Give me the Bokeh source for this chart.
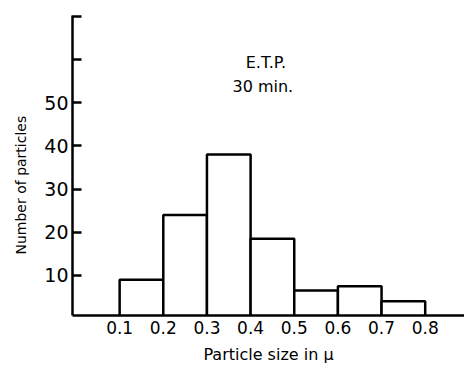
from bokeh.plotting import figure
from bokeh.models import FixedTicker, Range1d, Label, Title
from bokeh.embed import file_html
from bokeh.resources import INLINE

# Data
bin_left = [0.1, 0.2, 0.3, 0.4, 0.5, 0.6, 0.7]
bin_right = [0.2, 0.3, 0.4, 0.5, 0.6, 0.7, 0.8]
counts = [9, 24, 38, 18.5, 6.5, 7.5, 4]
x_ticks = [0.1, 0.2, 0.3, 0.4, 0.5, 0.6, 0.7, 0.8]
x_tick_labels = ["0.1", "0.2", "0.3", "0.4", "0.5", "0.6", "0.7", "0.8"]
y_ticks = [10, 20, 30, 40, 50, 60, 70]
y_tick_labels = ["10", "20", "30", "40", "50", "", ""]

FONT = "DejaVu Sans"

p = figure(width=464, height=366, output_backend="svg", toolbar_location=None,
           x_range=Range1d(-0.008, 0.89), y_range=Range1d(0.7, 70.2),
           min_border_left=72, min_border_right=0, min_border_top=15, min_border_bottom=51)
p.outline_line_color = None
p.grid.visible = False
p.background_fill_color = "white"
p.border_fill_color = "white"

p.quad(left=bin_left, right=bin_right, top=counts, bottom=0,
       fill_color="white", line_color="black", line_width=2.5)

# x axis
xa = p.xaxis[0]
xa.ticker = FixedTicker(ticks=x_ticks)
xa.major_label_overrides = {t: l for t, l in zip(x_ticks, x_tick_labels)}
xa.major_tick_in = 0
xa.major_tick_out = 0
xa.minor_tick_in = 0
xa.minor_tick_out = 0
xa.axis_line_width = 2.5
xa.axis_line_color = "black"
xa.major_label_text_font = FONT
xa.major_label_text_font_size = "17px"
xa.major_label_text_color = "black"
xa.major_label_standoff = 5
xa.axis_label = "Particle size in \u03bc"
xa.axis_label_text_font = FONT
xa.axis_label_text_font_size = "16px"
xa.axis_label_text_font_style = "normal"
xa.axis_label_text_color = "black"
xa.axis_label_standoff = 8

# y axis
ya = p.yaxis[0]
ya.ticker = FixedTicker(ticks=y_ticks)
ya.major_label_overrides = {t: l for t, l in zip(y_ticks, y_tick_labels)}
ya.major_tick_in = 9
ya.major_tick_out = 0
ya.minor_tick_in = 0
ya.minor_tick_out = 0
ya.major_tick_line_width = 2.5
ya.major_tick_line_color = "black"
ya.axis_line_width = 2.5
ya.axis_line_color = "black"
ya.major_label_text_font = FONT
ya.major_label_text_font_size = "19px"
ya.major_label_text_color = "black"
ya.major_label_standoff = 4

ylab = Title(text="Number of particles", align="left", offset=61, standoff=22,
             vertical_align="top",
             text_font=FONT, text_font_size="14px", text_font_style="normal",
             text_color="black")
p.add_layout(ylab, "left")

t1 = Label(x=0.435, y=59.3, text="E.T.P.", text_align="center", text_baseline="middle",
           text_font=FONT, text_font_size="16px", text_color="black")
t2 = Label(x=0.428, y=53.8, text="30 min.", text_align="center", text_baseline="middle",
           text_font=FONT, text_font_size="16px", text_color="black")
p.add_layout(t1)
p.add_layout(t2)

open("out.html", "w").write(file_html(p, INLINE))
